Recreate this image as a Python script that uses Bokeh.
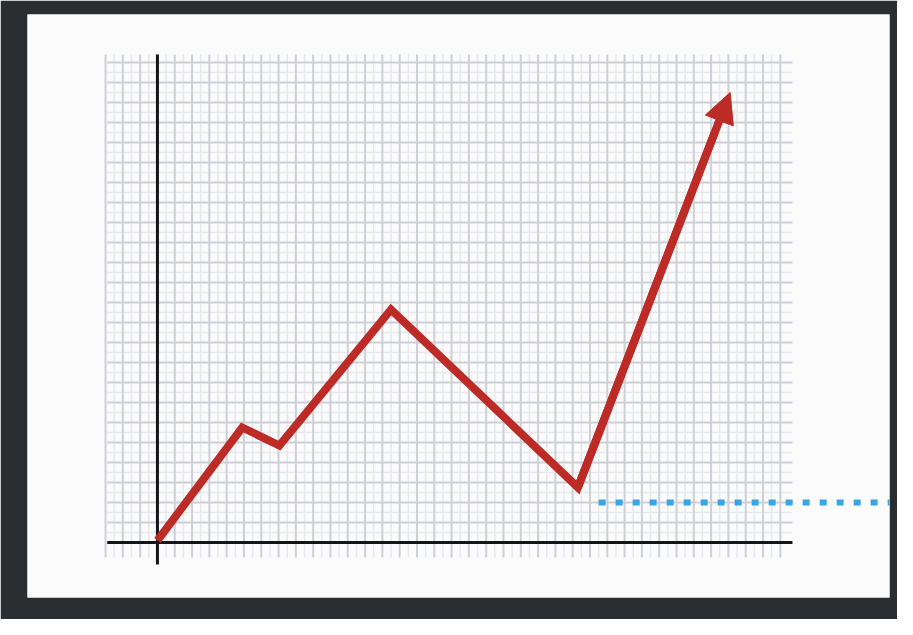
import numpy as np
from bokeh.plotting import figure
from bokeh.models import Arrow, NormalHead, Range1d
from bokeh.embed import file_html
from bokeh.resources import INLINE

# Trend line (data units: one grid cell)
trend_x = [0.0, 4.9, 7.05, 13.5, 24.3, 33.1]
trend_y = [0.1, 5.75, 4.85, 11.65, 2.75, 22.5]
# Blue dotted reference level
ref_level = 2.0
ref_x = [25.5, 50.0]

# graph-paper extents
grid_x = np.arange(-3, 37, 1.0)
grid_y = np.arange(0, 25, 1.0)
grid_xmin, grid_xmax = -2.9, 36.7
grid_ymin, grid_ymax = -0.75, 24.4

RED = "#bd2b27"
BLUE = "#38a6e6"

p = figure(width=897, height=619, output_backend="svg", toolbar_location=None,
           x_range=Range1d(-7.51, 42.31), y_range=Range1d(-2.75, 26.4),
           min_border_left=27, min_border_right=8, min_border_top=14, min_border_bottom=22,
           background_fill_color="#fbfbfc", border_fill_color="#2b2e31",
           outline_line_color=None)
p.axis.visible = False
p.grid.visible = False

# faint half-cell lines
hx = grid_x[:-1] + 0.5
p.segment(x0=hx, y0=[grid_ymin]*len(hx), x1=hx, y1=[grid_ymax]*len(hx),
          line_color="#e8e9ed", line_width=1.5)
hy = grid_y[:-1] + 0.5
p.segment(x0=[grid_xmin]*len(hy), y0=hy, x1=[grid_xmax]*len(hy), y1=hy,
          line_color="#e8e9ed", line_width=1.5)
# main grid lines
p.segment(x0=grid_x, y0=[grid_ymin]*len(grid_x), x1=grid_x, y1=[grid_ymax]*len(grid_x),
          line_color="#cdd0d7", line_width=2)
p.segment(x0=[grid_xmin]*len(grid_y), y0=grid_y, x1=[grid_xmax]*len(grid_y), y1=grid_y,
          line_color="#cdd0d7", line_width=2)

# axes
p.segment(x0=[0], y0=[-1.1], x1=[0], y1=[grid_ymax], line_color="#151515", line_width=3)
p.segment(x0=[grid_xmin], y0=[0], x1=[grid_xmax], y1=[0], line_color="#151515", line_width=3)

# blue dotted line
p.line(x=ref_x, y=[ref_level, ref_level], line_color=BLUE, line_width=6, line_dash="7 10")

# trend line
p.line(x=trend_x[:-1] + [trend_x[-2] + (trend_x[-1] - trend_x[-2]) * 0.9],
       y=trend_y[:-1] + [trend_y[-2] + (trend_y[-1] - trend_y[-2]) * 0.9],
       line_color=RED, line_width=8, line_join="miter")
p.add_layout(Arrow(end=NormalHead(size=30, fill_color=RED, line_color=RED),
                   x_start=trend_x[-2], y_start=trend_y[-2],
                   x_end=trend_x[-1], y_end=trend_y[-1],
                   line_color=RED, line_width=8))

open("out.html", "w").write(file_html(p, INLINE))
